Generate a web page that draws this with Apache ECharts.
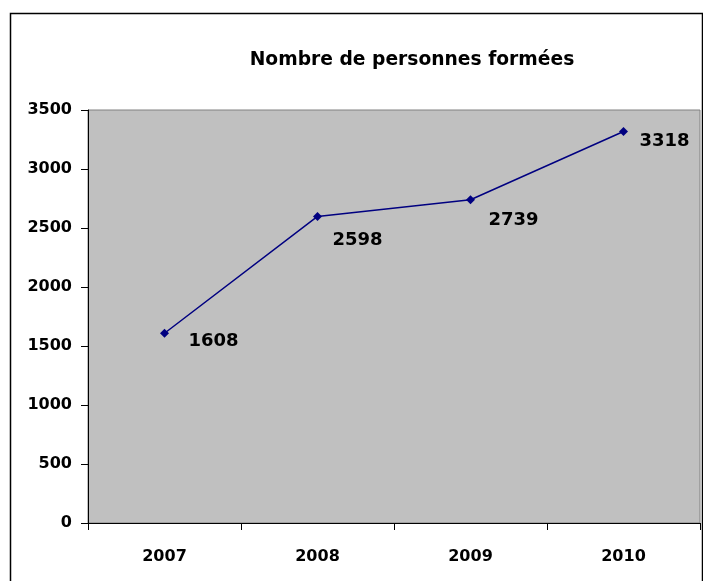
<!DOCTYPE html>
<html>
<head>
<meta charset="utf-8">
<script src="https://cdn.jsdelivr.net/npm/echarts@6/dist/echarts.min.js"></script>
<style>
html, body { margin: 0; padding: 0; background: #fff; }
#main { width: 703px; height: 581px; }
</style>
</head>
<body>
<div id="main"></div>
<script>
var years = ['2007', '2008', '2009', '2010'];
var trained = [1608, 2598, 2739, 3318];
// label offsets (px) from each point, as Excel placed them
var labelOffsets = [[24, 8], [15, 24], [18, 21], [16, 10]];

var points = trained.map(function (v, i) {
	return {
		value: v,
		label: { offset: labelOffsets[i] }
	};
});

var font = '"DejaVu Sans", sans-serif';

echarts.init(document.getElementById('main')).setOption({
	animation: false,
	backgroundColor: '#fff',
	title: {
		text: 'Nombre de personnes formées',
		left: 407,
		top: 46,
		textAlign: 'center',
		textStyle: { fontFamily: font, fontSize: 18.7, fontWeight: 'bold', color: '#000' }
	},
	graphic: [{
		type: 'rect',
		shape: { x: 10.5, y: 13.5, width: 692, height: 640 },
		style: { fill: 'none', stroke: '#000', lineWidth: 1.5 },
		z: 0
	}],
	grid: {
		left: 88, top: 110, right: 3, bottom: 58,
		show: true,
		backgroundColor: '#c0c0c0',
		borderColor: '#808080',
		borderWidth: 1
	},
	xAxis: {
		type: 'category',
		data: years,
		axisLine: { lineStyle: { color: '#000', width: 1 } },
		axisTick: { show: true, length: 7, lineStyle: { color: '#000' } },
		axisLabel: { margin: 26, fontFamily: font, fontSize: 16, fontWeight: 'bold', color: '#000' }
	},
	yAxis: {
		type: 'value',
		min: 0, max: 3500, interval: 500,
		axisLine: { show: true, lineStyle: { color: '#000', width: 1 } },
		axisTick: { show: true, length: 7, lineStyle: { color: '#000' } },
		splitLine: { show: false },
		axisLabel: {
			margin: 16,
			formatter: function (v) { return String(v); },
			fontFamily: font, fontSize: 16, fontWeight: 'bold', color: '#000'
		}
	},
	series: [{
		type: 'line',
		data: points,
		symbol: 'diamond',
		symbolSize: 9,
		lineStyle: { color: '#000080', width: 1.5 },
		itemStyle: { color: '#000080' },
		label: {
			show: true,
			position: 'inside',
			align: 'left',
			verticalAlign: 'middle',
			fontFamily: font,
			fontSize: 18,
			fontWeight: 'bold',
			color: '#000'
		}
	}]
});
</script>
</body>
</html>
